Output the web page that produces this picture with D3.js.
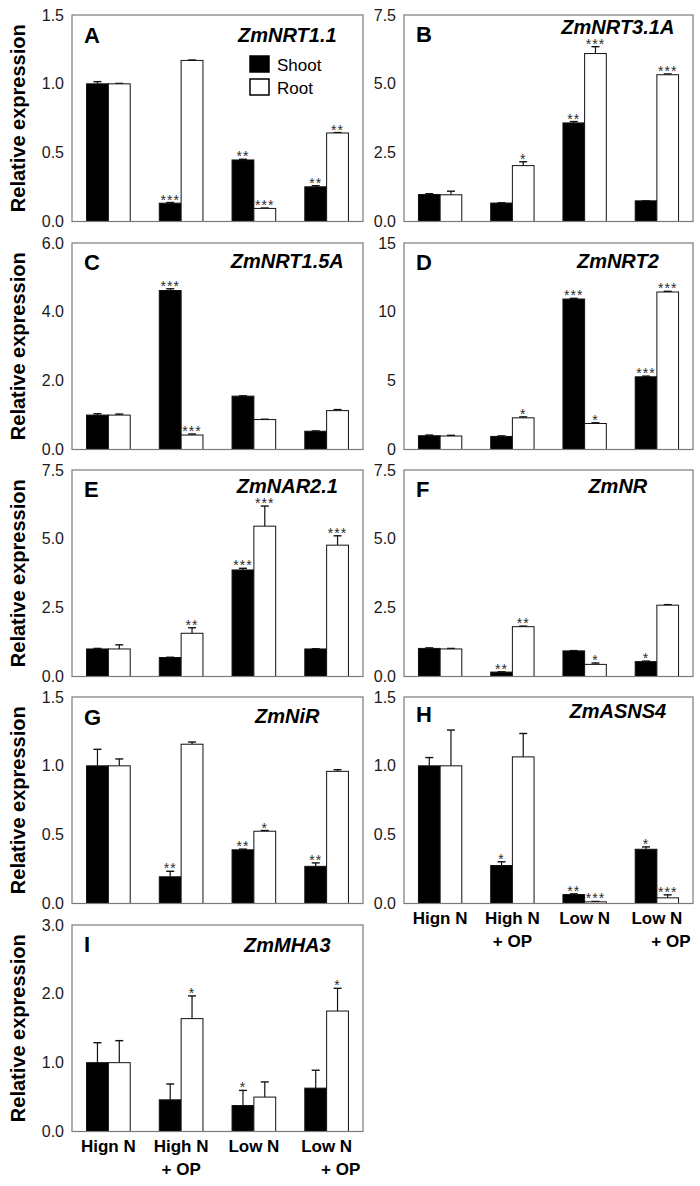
<!DOCTYPE html>
<html>
<head>
<meta charset="utf-8">
<script src="https://cdn.jsdelivr.net/npm/d3@7"></script>
<style>
  html, body { margin: 0; padding: 0; background: #fff; }
  svg { display: block; font-family: "Liberation Sans", Arial, sans-serif; }
</style>
</head>
<body>
<svg id="chart" width="700" height="1186"></svg>
<script>
// ---------------- data ----------------
const categoryLine1 = ["Hign N", "High N", "Low N", "Low N"];
const categoryLine2 = ["", "+ OP", "", "+ OP"];
const seriesNames = ["Shoot", "Root"];

const panelLetters = ["A", "B", "C", "D", "E", "F", "G", "H", "I"];
const geneNames = ["ZmNRT1.1", "ZmNRT3.1A", "ZmNRT1.5A", "ZmNRT2", "ZmNAR2.1", "ZmNR", "ZmNiR", "ZmASNS4", "ZmMHA3"];
const yMaxima = [1.5, 7.5, 6.0, 15, 7.5, 7.5, 1.5, 1.5, 3.0];
const tickValues = [
  [0, 0.5, 1.0, 1.5], [0, 2.5, 5.0, 7.5], [0, 2, 4, 6], [0, 5, 10, 15], [0, 2.5, 5.0, 7.5],
  [0, 2.5, 5.0, 7.5], [0, 0.5, 1.0, 1.5], [0, 0.5, 1.0, 1.5], [0, 1, 2, 3]
];
const tickLabels = [
  ["0.0", "0.5", "1.0", "1.5"], ["0.0", "2.5", "5.0", "7.5"], ["0.0", "2.0", "4.0", "6.0"], ["0", "5", "10", "15"],
  ["0.0", "2.5", "5.0", "7.5"], ["0.0", "2.5", "5.0", "7.5"], ["0.0", "0.5", "1.0", "1.5"], ["0.0", "0.5", "1.0", "1.5"],
  ["0.0", "1.0", "2.0", "3.0"]
];

const shootMeans = [
  [1.0, 0.133, 0.447, 0.252], [0.98, 0.67, 3.58, 0.75], [1.0, 4.62, 1.55, 0.53],
  [1.0, 0.95, 10.93, 5.28], [1.0, 0.69, 3.87, 1.0], [1.02, 0.16, 0.93, 0.54],
  [1.0, 0.194, 0.39, 0.27], [1.0, 0.276, 0.065, 0.394], [1.0, 0.46, 0.377, 0.63]
];
const shootErrors = [
  [0.016, 0.005, 0.005, 0.008], [0.03, 0.01, 0.05, 0.0], [0.04, 0.05, 0.01, 0.01],
  [0.05, 0.04, 0.05, 0.05], [0.02, 0.01, 0.06, 0.01], [0.02, 0.01, 0.01, 0.02],
  [0.12, 0.04, 0.005, 0.025], [0.06, 0.027, 0.005, 0.017], [0.29, 0.23, 0.22, 0.26]
];
const rootMeans = [
  [1.0, 1.17, 0.095, 0.643], [0.97, 2.03, 6.10, 5.33], [1.0, 0.42, 0.87, 1.13],
  [0.98, 2.30, 1.89, 11.44], [1.0, 1.57, 5.46, 4.77], [1.0, 1.81, 0.44, 2.59],
  [1.0, 1.157, 0.525, 0.96], [1.0, 1.065, 0.012, 0.041], [1.0, 1.64, 0.50, 1.75]
];
const rootErrors = [
  [0.003, 0.003, 0.003, 0.003], [0.13, 0.14, 0.25, 0.03], [0.03, 0.03, 0.01, 0.03],
  [0.05, 0.07, 0.05, 0.05], [0.15, 0.2, 0.73, 0.34], [0.02, 0.02, 0.05, 0.02],
  [0.05, 0.016, 0.005, 0.012], [0.26, 0.17, 0.003, 0.022], [0.32, 0.33, 0.22, 0.33]
];
const shootStars = [
  ["", "***", "**", "**"], ["", "", "**", ""], ["", "***", "", ""], ["", "", "***", "***"],
  ["", "", "***", ""], ["", "**", "", "*"], ["", "**", "**", "**"], ["", "*", "**", "*"], ["", "", "*", ""]
];
const rootStars = [
  ["", "", "***", "**"], ["", "*", "***", "***"], ["", "***", "", ""], ["", "*", "*", "***"],
  ["", "**", "***", "***"], ["", "**", "*", ""], ["", "", "*", ""], ["", "", "***", "***"], ["", "*", "", "*"]
];

// ---------------- layout ----------------
const colX = [72, 404];
const colW = [291, 289];
const rowTop = [15, 243, 470, 697, 925];
const plotH = 206.5;
const geneBaseline = [27, 19, 25, 25, 23, 23, 26, 21, 27];
const letterBaseline = [28, 27, 27, 27, 27, 27, 28, 25, 27];

const svg = d3.select("#chart");

panelLetters.forEach((letter, p) => {
  const col = p % 2, row = Math.floor(p / 2);
  const x0 = colX[col], y0 = rowTop[row], w = colW[col];
  const g = svg.append("g").attr("transform", `translate(${x0},${y0})`);

  const x = d3.scaleBand().domain(d3.range(4)).range([0, w]).paddingInner(0.4).paddingOuter(0.2);
  const xs = d3.scaleBand().domain(seriesNames).range([0, x.bandwidth()]);
  const y = d3.scaleLinear().domain([0, yMaxima[p]]).range([plotH, 0]);

  // y axis labels (no tick marks)
  const yAxis = d3.axisLeft(y).tickValues(tickValues[p]).tickSize(0).tickPadding(8)
    .tickFormat((d, i) => tickLabels[p][i]);
  const ax = g.append("g").call(yAxis);
  ax.select(".domain").remove();
  ax.selectAll("text").attr("font-size", 16).attr("fill", "#1a1a1a")
    .attr("font-family", "Liberation Sans, Arial, sans-serif");

  // bars
  const series = [
    { name: "Shoot", means: shootMeans[p], errs: shootErrors[p], stars: shootStars[p], fill: "#000" },
    { name: "Root", means: rootMeans[p], errs: rootErrors[p], stars: rootStars[p], fill: "#fff" }
  ];
  series.forEach(s => {
    const data = s.means.map((m, i) => ({ i, m, e: s.errs[i], st: s.stars[i] }));
    const bx = d => x(d.i) + xs(s.name);
    const cx = d => bx(d) + xs.bandwidth() / 2;
    // error bars
    g.selectAll(null).data(data).enter().append("line")
      .attr("x1", cx).attr("x2", cx)
      .attr("y1", d => y(d.m)).attr("y2", d => y(d.m + d.e))
      .attr("stroke", "#111").attr("stroke-width", 1.2);
    g.selectAll(null).data(data).enter().append("line")
      .attr("x1", d => cx(d) - 4).attr("x2", d => cx(d) + 4)
      .attr("y1", d => y(d.m + d.e)).attr("y2", d => y(d.m + d.e))
      .attr("stroke", "#111").attr("stroke-width", 1.4);
    g.selectAll(null).data(data).enter().append("rect")
      .attr("x", bx).attr("width", xs.bandwidth())
      .attr("y", d => y(d.m)).attr("height", d => plotH - y(d.m))
      .attr("fill", s.fill).attr("stroke", "#111").attr("stroke-width", 1);
    g.selectAll(null).data(data.filter(d => d.st)).enter().append("text")
      .attr("x", cx).attr("y", d => y(d.m + d.e) + 2)
      .attr("text-anchor", "middle").attr("font-size", 14).attr("fill", "#2a2a2a")
      .attr("letter-spacing", 1)
      .text(d => d.st);
  });

  // frame
  g.append("rect").attr("x", 0).attr("y", 0).attr("width", w).attr("height", plotH)
    .attr("fill", "none").attr("stroke", "#7a7a7a").attr("stroke-width", 1.2);

  // panel letter & gene name
  g.append("text").attr("x", 12).attr("y", letterBaseline[p])
    .attr("font-size", 22).attr("font-weight", "bold").text(letter);
  g.append("text").attr("x", w * 0.74).attr("y", geneBaseline[p])
    .attr("text-anchor", "middle").attr("font-size", 20).attr("font-weight", "bold")
    .attr("font-style", "italic").text(geneNames[p]);

  // y title on left column
  if (col === 0) {
    svg.append("text")
      .attr("transform", `translate(25,${y0 + plotH / 2}) rotate(-90)`)
      .attr("text-anchor", "middle").attr("font-size", 20).attr("font-weight", "bold")
      .text("Relative expression");
  }

  // legend in panel A
  if (p === 0) {
    const lg = g.append("g").attr("transform", `translate(${250 - x0},${56 - y0})`);
    seriesNames.forEach((n, k) => {
      lg.append("rect").attr("x", 0).attr("y", k * 23).attr("width", 19).attr("height", 16)
        .attr("fill", k === 0 ? "#000" : "#fff").attr("stroke", "#000").attr("stroke-width", 1.5);
      lg.append("text").attr("x", 27).attr("y", k * 23 + 15).attr("font-size", 17).text(n);
    });
  }

  // category labels on bottom panels (H and I)
  if (p === 7 || p === 8) {
    const xl = g.append("g").attr("transform", `translate(0,${plotH})`);
    categoryLine1.forEach((t, i) => {
      const cxp = x(i) + x.bandwidth() / 2;
      xl.append("text").attr("x", cxp).attr("y", 20).attr("text-anchor", "middle")
        .attr("font-size", 17).attr("font-weight", "bold").text(t);
      if (categoryLine2[i]) {
        xl.append("text").attr("x", cxp + (i === 3 ? 14 : 0)).attr("y", 43).attr("text-anchor", "middle")
          .attr("font-size", 17).attr("font-weight", "bold").text(categoryLine2[i]);
      }
    });
  }
});
</script>
</body>
</html>
